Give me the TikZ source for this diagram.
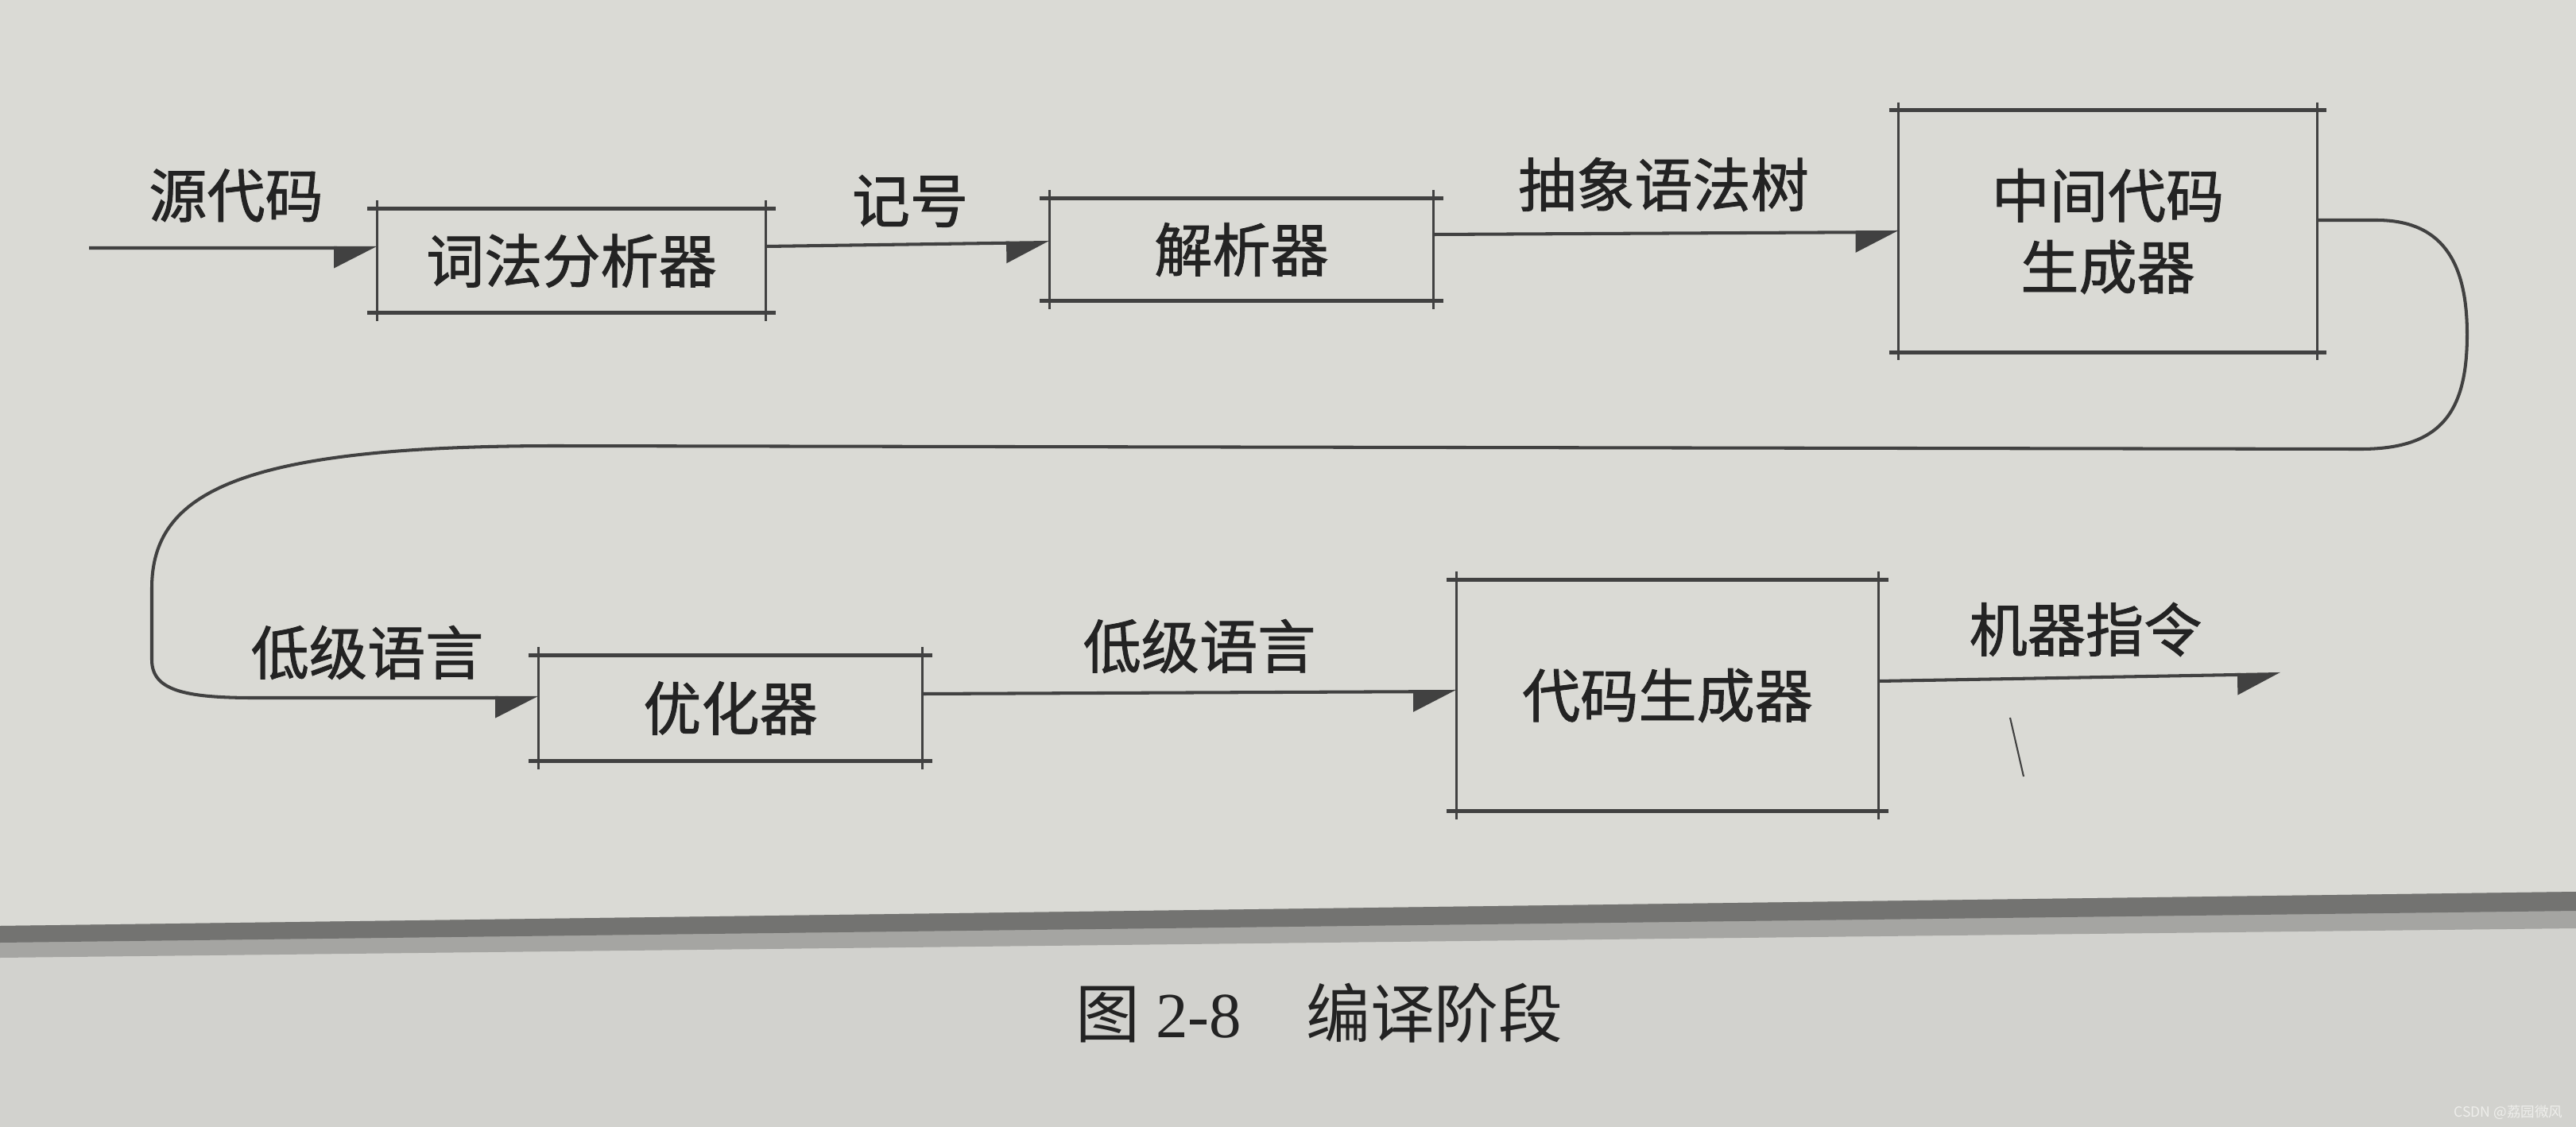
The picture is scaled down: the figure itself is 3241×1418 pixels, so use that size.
\documentclass[tikz,border=0pt]{standalone}
\usepackage{fontspec}
\setmainfont{Liberation Serif}
\newfontfamily\cjk{Noto Sans CJK SC}
\newfontfamily\cjkb[FakeBold=1.2]{Noto Sans CJK SC}
\usetikzlibrary{arrows.meta,calc}
\definecolor{pagebg}{RGB}{218,218,213}
\definecolor{pagelow}{RGB}{210,210,206}
\definecolor{ink}{RGB}{35,35,35}
\definecolor{lineink}{RGB}{65,65,65}
\definecolor{banddark}{RGB}{115,115,113}
\definecolor{bandmid}{RGB}{165,165,162}
\definecolor{wmark}{RGB}{238,238,235}
\begin{document}
\begin{tikzpicture}[x=0.01cm,y=-0.01cm,
  stagebox/.style={inner sep=0pt, font=\cjkb\fontsize{20.8}{27}\selectfont, text=ink, align=center},
  lbl/.style={inner sep=0pt, font=\cjkb\fontsize{20.8}{27}\selectfont, text=ink},
  conn/.style={draw=lineink, line width=1.15pt, -{Triangle[harpoon,swap,length=0.5cm,width=0.5cm]}},
  hedge/.style={draw=lineink, line width=1.5pt},
  vedge/.style={draw=lineink, line width=0.8pt}]
\useasboundingbox (0,0) rectangle (3241,1418);
% page background
\fill[pagebg] (0,0) rectangle (3241,1418);
\fill[pagelow] (0,1165) -- (3241,1122) -- (3241,1418) -- (0,1418) -- cycle;
\fill[bandmid] (0,1165) -- (3241,1122) -- (3241,1168) -- (0,1205) -- cycle;
\fill[banddark] (0,1165) -- (3241,1122) -- (3241,1146) -- (0,1186) -- cycle;

% boxes
\node[stagebox, minimum width=4.88cm, minimum height=1.30cm] (b1) at (719,328) {词法分析器};
\node[stagebox, minimum width=4.82cm, minimum height=1.28cm] (b2) at (1562,314) {解析器};
\node[stagebox, minimum width=5.25cm, minimum height=3.03cm] (b3) at (2652,291) {中间代码\\[-0.05cm]生成器};
\node[stagebox, minimum width=4.82cm, minimum height=1.32cm] (b4) at (919,891) {优化器};
\node[stagebox, minimum width=5.30cm, minimum height=2.90cm] (b5) at (2098,875) {代码生成器};

\foreach \n in {b1,b2,b3,b4,b5}{
  \draw[hedge] ([xshift=-0.12cm]\n.north west) -- ([xshift=0.12cm]\n.north east);
  \draw[hedge] ([xshift=-0.12cm]\n.south west) -- ([xshift=0.12cm]\n.south east);
  \draw[vedge] ([yshift=0.1cm]\n.north west) -- ([yshift=-0.1cm]\n.south west);
  \draw[vedge] ([yshift=0.1cm]\n.north east) -- ([yshift=-0.1cm]\n.south east);
}

% labels
\node[lbl] (l1) at (297,246) {源代码};
\node[lbl] (l2) at (1145,253) {记号};
\node[lbl] (l3) at (2093,232) {抽象语法树};
\node[lbl] (l4) at (462,821) {低级语言};
\node[lbl] (l5) at (1509,813) {低级语言};
\node[lbl] (l6) at (2624,792) {机器指令};

% connectors
\coordinate (src) at (112,312);
\coordinate (out) at (2869,848);
\draw[conn] (src) -- ([yshift=0.16cm]b1.west);
\draw[conn] ([yshift=0.18cm]b1.east) -- ([yshift=0.09cm]b2.west);
\draw[conn] ([yshift=0.19cm]b2.east) -- ([yshift=-0.01cm]b3.west);
\draw[conn] ([yshift=0.14cm]b3.east) -- (2990,277)
  .. controls (3080,277) and (3104,340) .. (3104,421)
  .. controls (3104,520) and (3070,565) .. (2970,565)
  -- (700,561)
  .. controls (300,561) and (191,620) .. (191,740)
  -- (191,830)
  .. controls (191,868) and (230,878) .. (320,878)
  -- ([yshift=0.13cm]b4.west);
\draw[conn] ([yshift=0.18cm]b4.east) -- ([yshift=0.05cm]b5.west);
\draw[conn] ([yshift=0.18cm]b5.east) -- (out);

% stray pen mark
\draw[lineink, line width=0.6pt] (2529,903) -- (2546,977);

% caption
\node[inner sep=0pt, font=\fontsize{23}{28}\selectfont, text=ink] (cap) at (1660,1275)
  {{\cjk 图}~2-8\hspace{1em}{\cjk 编译阶段}};
% watermark
\node[inner sep=0pt, font=\cjk\fontsize{5}{6}\selectfont, text=wmark] (wm) at (3156,1400) {CSDN @荔园微风};
\end{tikzpicture}
\end{document}
